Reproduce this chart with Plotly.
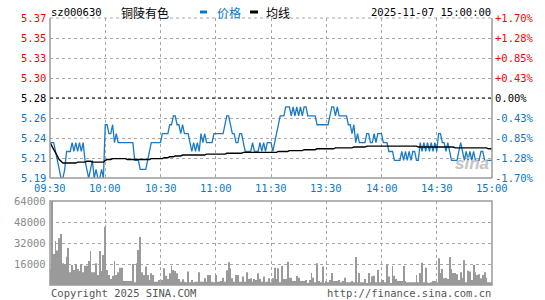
import plotly.graph_objects as go

W, H = 545, 300
prev_close = 5.28
pct_limit = 0.017

minutes = list(range(241))

price = [
    5.23,5.23,5.23,5.22,5.21,5.20,5.19,5.19,5.20,5.22,
    5.22,5.22,5.23,5.22,5.23,5.22,5.23,5.22,5.23,5.21,
    5.20,5.19,5.20,5.21,5.19,5.20,5.19,5.19,5.20,5.19,
    5.25,5.25,5.24,5.24,5.25,5.23,5.24,5.23,5.23,5.23,
    5.23,5.23,5.23,5.23,5.23,5.23,5.21,5.21,5.21,5.20,
    5.20,5.20,5.20,5.21,5.22,5.23,5.23,5.23,5.23,5.23,
    5.23,5.24,5.24,5.24,5.24,5.25,5.25,5.26,5.26,5.25,
    5.25,5.24,5.25,5.24,5.24,5.24,5.23,5.22,5.23,5.22,
    5.23,5.22,5.24,5.23,5.24,5.23,5.23,5.23,5.23,5.24,
    5.24,5.24,5.24,5.24,5.24,5.25,5.26,5.26,5.25,5.24,
    5.24,5.23,5.23,5.24,5.24,5.23,5.22,5.22,5.22,5.22,
    5.23,5.22,5.22,5.22,5.23,5.22,5.23,5.22,5.23,5.23,
    5.23,5.22,5.23,5.24,5.25,5.26,5.26,5.26,5.27,5.27,
    5.27,5.26,5.27,5.26,5.27,5.26,5.27,5.26,5.27,5.27,
    5.26,5.26,5.26,5.26,5.26,5.25,5.25,5.25,5.25,5.25,
    5.25,5.25,5.26,5.27,5.27,5.26,5.27,5.26,5.26,5.26,
    5.26,5.26,5.25,5.25,5.24,5.25,5.23,5.24,5.23,5.23,
    5.23,5.23,5.24,5.24,5.23,5.23,5.24,5.23,5.24,5.24,
    5.24,5.23,5.23,5.23,5.22,5.22,5.22,5.21,5.21,5.21,
    5.21,5.22,5.21,5.22,5.21,5.22,5.21,5.22,5.22,5.21,
    5.21,5.23,5.22,5.23,5.22,5.23,5.22,5.23,5.22,5.23,
    5.22,5.24,5.24,5.23,5.23,5.22,5.23,5.22,5.21,5.21,
    5.21,5.21,5.22,5.23,5.22,5.21,5.22,5.21,5.22,5.21,
    5.22,5.21,5.21,5.21,5.22,5.22,5.21,5.21,5.21,5.21,5.21,
]

avg = [
    5.230,5.226,5.222,5.219,5.215,5.211,5.209,5.207,5.207,5.207,
    5.207,5.207,5.207,5.207,5.207,5.208,5.208,5.208,5.208,5.208,
    5.209,5.209,5.209,5.208,5.208,5.208,5.208,5.208,5.208,5.208,
    5.210,5.211,5.211,5.211,5.212,5.212,5.212,5.212,5.212,5.212,
    5.212,5.212,5.211,5.211,5.211,5.211,5.211,5.211,5.211,5.211,
    5.211,5.211,5.211,5.211,5.211,5.212,5.212,5.212,5.212,5.212,
    5.212,5.212,5.213,5.213,5.213,5.214,5.214,5.214,5.215,5.215,
    5.215,5.215,5.216,5.216,5.216,5.216,5.216,5.216,5.216,5.216,
    5.216,5.216,5.216,5.216,5.216,5.217,5.217,5.217,5.217,5.217,
    5.217,5.217,5.217,5.217,5.217,5.217,5.218,5.218,5.218,5.218,
    5.218,5.218,5.218,5.218,5.218,5.219,5.219,5.219,5.219,5.219,
    5.219,5.219,5.219,5.219,5.219,5.219,5.219,5.219,5.219,5.219,
    5.219,5.219,5.219,5.219,5.220,5.220,5.220,5.220,5.220,5.220,
    5.221,5.221,5.221,5.221,5.221,5.221,5.221,5.221,5.222,5.222,
    5.222,5.222,5.222,5.222,5.222,5.223,5.223,5.223,5.223,5.223,
    5.223,5.223,5.223,5.223,5.223,5.224,5.224,5.224,5.224,5.224,
    5.224,5.224,5.224,5.224,5.224,5.225,5.225,5.225,5.225,5.225,
    5.225,5.225,5.226,5.226,5.226,5.226,5.226,5.226,5.226,5.226,
    5.226,5.226,5.226,5.226,5.226,5.226,5.226,5.226,5.226,5.226,
    5.226,5.226,5.226,5.226,5.226,5.226,5.226,5.226,5.226,5.226,
    5.225,5.225,5.225,5.225,5.225,5.225,5.225,5.225,5.225,5.225,
    5.225,5.225,5.225,5.225,5.225,5.225,5.225,5.225,5.225,5.225,
    5.224,5.224,5.224,5.224,5.224,5.224,5.224,5.224,5.224,5.224,
    5.224,5.224,5.224,5.224,5.224,5.224,5.224,5.224,5.223,5.223,5.223,
]

volume = [
    12200,70000,23600,33500,26200,35600,38900,16500,16000,21600,
    28200,9700,15200,11400,16000,12200,10700,15700,9700,14700,
    14700,18300,25900,9700,9700,16500,7600,25900,10700,22900,
    44400,11400,7600,4600,7100,18300,7600,9700,13200,13200,
    3000,3000,3000,3000,3000,16000,2000,16500,26700,36600,
    9700,7600,14000,7600,3800,8900,7600,2500,2500,3800,
    2000,3800,12700,7100,4600,8900,14700,11400,10700,8900,
    4600,2500,4300,2500,2000,10200,2000,3800,2000,2500,
    2500,9700,2500,2500,5100,2500,7600,7600,2500,2000,
    7600,2500,2500,3000,5600,2500,11200,17300,12700,5100,
    2500,7600,7600,2500,2500,6400,2500,9700,4600,5100,
    2500,4600,3800,8900,4600,2500,6400,2000,2500,5100,
    2000,5100,13200,4600,12700,2000,14500,4600,4600,17800,
    5600,5600,3000,3000,6900,5600,3000,3000,3000,3800,
    1300,3800,9100,5600,2000,16500,3000,2000,14000,1300,
    3000,2000,3800,9100,3000,3000,3000,3800,2000,3000,
    5600,2000,2000,2000,3000,2000,21300,2000,9100,2000,
    2000,4600,1300,9100,2000,6600,7100,2000,11400,2000,
    4600,3800,2000,15200,6400,1300,14500,7100,4600,3000,
    3000,3000,14500,3000,2000,2000,2000,2000,2000,7600,
    2000,9100,17000,2000,13200,2000,1300,2000,3000,3000,
    2000,20300,9100,12200,5100,5600,4600,21300,12200,9100,
    9100,8100,3800,9700,5600,18800,2000,10900,10200,3800,
    15200,9700,7600,8100,5100,7600,9700,5600,2000,2000,2000,
]

time_ticks = [0, 30, 60, 90, 120, 150, 180, 210, 240]
time_labels = ["09:30", "10:00", "10:30", "11:00", "11:30", "13:30", "14:00", "14:30", "15:00"]
price_labels = ["5.37", "5.35", "5.33", "5.30", "5.28", "5.26", "5.24", "5.21", "5.19"]
pct_labels = ["+1.70%", "+1.28%", "+0.85%", "+0.43%", "0.00%", "-0.43%", "-0.85%", "-1.28%", "-1.70%"]
vol_ticks = [16000, 32000, 48000, 64000]
vol_labels = ["16000", "32000", "48000", "64000"]

stock_code = "sz000630"
stock_name = "铜陵有色"
timestamp = "2025-11-07 15:00:00"

# price axis levels (9 equally spaced from -1.70% to +1.70%)
y_lo = prev_close * (1 - pct_limit)
y_hi = prev_close * (1 + pct_limit)
levels = [y_hi - (y_hi - y_lo) * k / 8 for k in range(9)]

BLUE = "#1a7ac6"
TXTBLUE = "#0a78c8"
RED = "#ff0000"
GRID = "#a8a8a8"
FRAME = "#9a9a9a"
MONO = "DejaVu Sans Mono"
CJK = "Noto Sans CJK SC"

X0, X1 = 50, 492
PY0, PY1 = 18, 178
VY0, VY1 = 201, 285

def px(x):
    return x / W

def py(y):
    return 1 - y / H

fig = go.Figure()
fig.add_trace(go.Scatter(x=minutes, y=price, mode="lines",
                         line=dict(color=BLUE, width=1.3), xaxis="x", yaxis="y",
                         hoverinfo="skip"))
fig.add_trace(go.Scatter(x=minutes, y=avg, mode="lines",
                         line=dict(color="#000000", width=1.4), xaxis="x", yaxis="y",
                         hoverinfo="skip"))
fig.add_trace(go.Bar(x=minutes, y=volume, width=0.48, marker=dict(color="#9a9a9a", line=dict(width=0)),
                     xaxis="x2", yaxis="y2", hoverinfo="skip"))

axis_common = dict(showgrid=True, gridcolor=GRID, griddash="dot", gridwidth=1,
                   zeroline=False, showline=False, showticklabels=False, ticks="")

fig.update_layout(
    width=W, height=H,
    margin=dict(l=0, r=0, t=0, b=0),
    paper_bgcolor="white", plot_bgcolor="white",
    showlegend=False,
    xaxis=dict(domain=[px(X0), px(X1)], range=[0, 240], tickvals=time_ticks, anchor="y", **axis_common),
    yaxis=dict(domain=[py(PY1), py(PY0)], range=[y_lo, y_hi], tickvals=levels[1:-1], anchor="x", **axis_common),
    xaxis2=dict(domain=[px(X0), px(X1)], range=[0, 240], tickvals=time_ticks, anchor="y2", **axis_common),
    yaxis2=dict(domain=[py(VY1), py(VY0)], range=[0, 64000], tickvals=vol_ticks[:-1], anchor="x2", **axis_common),
)

shapes = []
# price panel frame
shapes.append(dict(type="line", xref="paper", yref="paper", x0=px(X0), x1=px(X0), y0=py(PY0), y1=py(PY1),
                   line=dict(color=FRAME, width=1.5)))
shapes.append(dict(type="line", xref="paper", yref="paper", x0=px(X1), x1=px(X1), y0=py(PY0), y1=py(PY1),
                   line=dict(color=FRAME, width=1.5)))
shapes.append(dict(type="line", xref="paper", yref="paper", x0=px(X0), x1=px(X1), y0=py(PY1), y1=py(PY1),
                   line=dict(color=FRAME, width=1.5)))
shapes.append(dict(type="line", xref="paper", yref="paper", x0=px(X0), x1=px(X1), y0=py(PY0), y1=py(PY0),
                   line=dict(color=GRID, width=1, dash="dot")))
# previous close line
shapes.append(dict(type="line", xref="x", yref="y", x0=0, x1=240, y0=prev_close, y1=prev_close,
                   line=dict(color="#000000", width=1, dash="dot")))
# volume frame
shapes.append(dict(type="rect", xref="paper", yref="paper", x0=px(X0), x1=px(X1), y0=py(VY1), y1=py(VY0),
                   line=dict(color=FRAME, width=1.5)))
# legend swatches
shapes.append(dict(type="line", xref="paper", yref="paper", x0=px(200), x1=px(207), y0=py(12), y1=py(12),
                   line=dict(color=TXTBLUE, width=3)))
shapes.append(dict(type="line", xref="paper", yref="paper", x0=px(250), x1=px(258), y0=py(12), y1=py(12),
                   line=dict(color="#000000", width=3)))
fig.update_layout(shapes=shapes)

ann = []
def add(text, x, y, color="#000", size=10, family=MONO, xanchor="left", xref="paper", yref="paper", **kw):
    ann.append(dict(text=text, x=x, y=y, xref=xref, yref=yref, xanchor=xanchor, yanchor="middle",
                    showarrow=False, font=dict(color=color, size=size, family=family), borderpad=0, **kw))

add(stock_code, px(50), py(12), size=10.5)
add(stock_name, px(120), py(12), size=12, family=CJK)
add("价格", px(216), py(12), color=TXTBLUE, size=12, family=CJK)
add("均线", px(265), py(12), size=12, family=CJK)
add(timestamp, px(492), py(12), xanchor="right", size=10.5)

for k, (lv, pl, cl) in enumerate(zip(levels, price_labels, pct_labels)):
    col = RED if k < 4 else ("#000000" if k == 4 else TXTBLUE)
    add(pl, px(47), lv, color=col, size=10.5, xanchor="right", yref="y")
    add(cl, px(494), lv, color=col, size=10.5, xanchor="left", yref="y")

for t, lab in zip(time_ticks, time_labels):
    add(lab, t, py(188), color=TXTBLUE, size=10.5, xanchor="center", xref="x")

for v, lab in zip(vol_ticks, vol_labels):
    add(lab, px(47), v, color="#8a8a8a", size=10.5, xanchor="right", yref="y2")

add("Copyright 2025 SINA.COM", px(50), py(293), color="#555555", size=10.5)
add("http://finance.sina.com.cn", px(492), py(293), color="#555555", size=10.5, xanchor="right")
add("<b><i>sina</i></b>", px(472), py(163), color="#c4c4c4", size=17, family="Liberation Sans", xanchor="center")

fig.update_layout(annotations=ann)
fig.write_html("out.html")
